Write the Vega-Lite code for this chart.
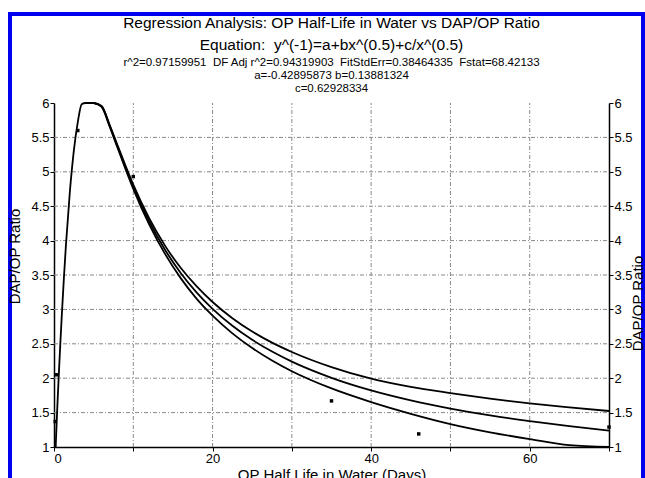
{
  "$schema": "https://vega.github.io/schema/vega-lite/v6.json",
  "width": 633,
  "height": 468,
  "autosize": {"type": "none"},
  "padding": {"left": 10, "top": 14, "right": 2, "bottom": -4},
  "background": "white",
  "config": {
    "font": "Liberation Sans",
    "view": {"stroke": "#0000f0", "strokeWidth": 4, "fill": "white"},
    "axis": {"labelFont": "Liberation Sans", "titleFont": "Liberation Sans", "labelColor": "black", "titleColor": "black", "titleFontWeight": "normal", "domainColor": "black", "domainWidth": 1.5, "tickColor": "black", "tickSize": 4, "grid": false}
  },
  "title": {
    "text": ["Regression Analysis: OP Half-Life in Water vs DAP/OP Ratio", "Equation:\u00a0\u00a0y^(-1)=a+bx^(0.5)+c/x^(0.5)"],
    "subtitle": ["r^2=0.97159951\u00a0\u00a0DF Adj r^2=0.94319903\u00a0\u00a0FitStdErr=0.38464335\u00a0\u00a0Fstat=68.42133", "a=-0.42895873 b=0.13881324", "c=0.62928334"],
    "anchor": "middle",
    "frame": "group",
    "font": "Liberation Sans",
    "fontSize": 15.5,
    "fontWeight": "normal",
    "lineHeight": 22,
    "color": "black",
    "subtitleFont": "Liberation Sans",
    "subtitleFontSize": 11.5,
    "subtitleLineHeight": 13,
    "subtitleColor": "black",
    "subtitlePadding": 3,
    "offset": -80,
    "dx": 5
  },
  "datasets": {
    "curves": [
      {"x": 0.2125, "y": 1.0, "s": "fit"},
      {"x": 0.25, "y": 1.112, "s": "fit"},
      {"x": 0.3, "y": 1.2565, "s": "fit"},
      {"x": 0.4, "y": 1.5295, "s": "fit"},
      {"x": 0.5, "y": 1.788, "s": "fit"},
      {"x": 0.6, "y": 2.037, "s": "fit"},
      {"x": 0.8, "y": 2.508, "s": "fit"},
      {"x": 1, "y": 2.949, "s": "fit"},
      {"x": 1.25, "y": 3.459, "s": "fit"},
      {"x": 1.5, "y": 3.925, "s": "fit"},
      {"x": 2, "y": 4.71, "s": "fit"},
      {"x": 2.5, "y": 5.305, "s": "fit"},
      {"x": 3, "y": 5.721, "s": "fit"},
      {"x": 3.5, "y": 5.984, "s": "fit"},
      {"x": 4, "y": 6.124, "s": "fit"},
      {"x": 5, "y": 6.14, "s": "fit"},
      {"x": 6, "y": 5.95, "s": "fit"},
      {"x": 7, "y": 5.676, "s": "fit"},
      {"x": 8, "y": 5.371, "s": "fit"},
      {"x": 9, "y": 5.071, "s": "fit"},
      {"x": 10, "y": 4.783, "s": "fit"},
      {"x": 12, "y": 4.281, "s": "fit"},
      {"x": 14, "y": 3.867, "s": "fit"},
      {"x": 16, "y": 3.526, "s": "fit"},
      {"x": 18, "y": 3.244, "s": "fit"},
      {"x": 20, "y": 3.008, "s": "fit"},
      {"x": 22.5, "y": 2.762, "s": "fit"},
      {"x": 25, "y": 2.558, "s": "fit"},
      {"x": 27.5, "y": 2.387, "s": "fit"},
      {"x": 30, "y": 2.241, "s": "fit"},
      {"x": 35, "y": 2.006, "s": "fit"},
      {"x": 40, "y": 1.823, "s": "fit"},
      {"x": 45, "y": 1.678, "s": "fit"},
      {"x": 50, "y": 1.559, "s": "fit"},
      {"x": 55, "y": 1.459, "s": "fit"},
      {"x": 60, "y": 1.375, "s": "fit"},
      {"x": 65, "y": 1.302, "s": "fit"},
      {"x": 70, "y": 1.238, "s": "fit"},
      {"x": 5, "y": 6.145, "s": "upper"},
      {"x": 6, "y": 5.958, "s": "upper"},
      {"x": 7, "y": 5.688, "s": "upper"},
      {"x": 8, "y": 5.389, "s": "upper"},
      {"x": 9, "y": 5.095, "s": "upper"},
      {"x": 10, "y": 4.813, "s": "upper"},
      {"x": 12, "y": 4.326, "s": "upper"},
      {"x": 14, "y": 3.927, "s": "upper"},
      {"x": 16, "y": 3.601, "s": "upper"},
      {"x": 18, "y": 3.334, "s": "upper"},
      {"x": 20, "y": 3.108, "s": "upper"},
      {"x": 22.5, "y": 2.872, "s": "upper"},
      {"x": 25, "y": 2.678, "s": "upper"},
      {"x": 27.5, "y": 2.517, "s": "upper"},
      {"x": 30, "y": 2.381, "s": "upper"},
      {"x": 35, "y": 2.161, "s": "upper"},
      {"x": 40, "y": 1.993, "s": "upper"},
      {"x": 45, "y": 1.873, "s": "upper"},
      {"x": 50, "y": 1.784, "s": "upper"},
      {"x": 55, "y": 1.704, "s": "upper"},
      {"x": 60, "y": 1.635, "s": "upper"},
      {"x": 65, "y": 1.577, "s": "upper"},
      {"x": 70, "y": 1.523, "s": "upper"},
      {"x": 5, "y": 6.135, "s": "lower"},
      {"x": 6, "y": 5.942, "s": "lower"},
      {"x": 7, "y": 5.664, "s": "lower"},
      {"x": 8, "y": 5.353, "s": "lower"},
      {"x": 9, "y": 5.047, "s": "lower"},
      {"x": 10, "y": 4.753, "s": "lower"},
      {"x": 12, "y": 4.236, "s": "lower"},
      {"x": 14, "y": 3.807, "s": "lower"},
      {"x": 16, "y": 3.451, "s": "lower"},
      {"x": 18, "y": 3.154, "s": "lower"},
      {"x": 20, "y": 2.908, "s": "lower"},
      {"x": 22.5, "y": 2.652, "s": "lower"},
      {"x": 25, "y": 2.438, "s": "lower"},
      {"x": 27.5, "y": 2.257, "s": "lower"},
      {"x": 30, "y": 2.101, "s": "lower"},
      {"x": 35, "y": 1.851, "s": "lower"},
      {"x": 40, "y": 1.653, "s": "lower"},
      {"x": 45, "y": 1.483, "s": "lower"},
      {"x": 50, "y": 1.334, "s": "lower"},
      {"x": 55, "y": 1.214, "s": "lower"},
      {"x": 60, "y": 1.115, "s": "lower"},
      {"x": 65, "y": 1.027, "s": "lower"},
      {"x": 70, "y": 0.953, "s": "lower"}
    ],
    "points": [
      {"x": 0.15, "y": 1.37},
      {"x": 0.35, "y": 2.05},
      {"x": 3.0, "y": 5.6},
      {"x": 10, "y": 4.93},
      {"x": 35, "y": 1.67},
      {"x": 46, "y": 1.19},
      {"x": 70, "y": 1.29}
    ],
    "gridx": [{"v": 10}, {"v": 20}, {"v": 30}, {"v": 40}, {"v": 50}, {"v": 60}],
    "gridy": [{"v": 1.5}, {"v": 2}, {"v": 2.5}, {"v": 3}, {"v": 3.5}, {"v": 4}, {"v": 4.5}, {"v": 5}, {"v": 5.5}]
  },
  "layer": [
    {
      "data": {"name": "gridx"},
      "mark": {"type": "rule", "color": "#888888", "strokeWidth": 1, "strokeDash": [4, 2, 1, 2]},
      "encoding": {
        "x": {"field": "v", "type": "quantitative", "axis": null},
        "y": {"datum": 1, "type": "quantitative", "axis": null},
        "y2": {"datum": 6}
      }
    },
    {
      "data": {"name": "gridy"},
      "mark": {"type": "rule", "color": "#888888", "strokeWidth": 1, "strokeDash": [4, 2, 1, 2]},
      "encoding": {
        "y": {"field": "v", "type": "quantitative", "axis": null},
        "x": {"datum": 0, "type": "quantitative", "axis": null},
        "x2": {"datum": 70}
      }
    },
    {
      "data": {"name": "curves"},
      "mark": {"type": "line", "color": "black", "strokeWidth": 1.8, "interpolate": "monotone"},
      "encoding": {
        "x": {
          "field": "x", "type": "quantitative",
          "scale": {"domain": [0, 70], "nice": false, "zero": false, "range": [44, 599], "clamp": true},
          "axis": {
            "values": [0, 10, 20, 30, 40, 50, 60, 70],
            "labelExpr": "datum.value % 20 == 0 ? datum.label : ''",
            "offset": -35,
            "labelFontSize": 13,
            "labelPadding": 1,
            "title": "OP Half Life in Water (Days)",
            "titleFontSize": 15,
            "titlePadding": 2
          }
        },
        "y": {
          "field": "y", "type": "quantitative",
          "scale": {"domain": [1, 6], "nice": false, "zero": false, "range": [433, 89], "clamp": true},
          "axis": {
            "orient": "left",
            "values": [1, 1.5, 2, 2.5, 3, 3.5, 4, 4.5, 5, 5.5, 6],
            "format": "~g",
            "offset": -44,
            "labelFontSize": 13,
            "labelPadding": 1,
            "title": "DAP/OP Ratio",
            "titleFontSize": 15,
            "titleAngle": -90,
            "titleX": -40,
            "titleY": 242,
            "titleAlign": "center",
            "titleBaseline": "middle"
          }
        },
        "detail": {"field": "s"},
        "order": {"field": "x", "type": "quantitative"}
      }
    },
    {
      "mark": {"type": "rule", "color": "#555555", "strokeWidth": 2},
      "encoding": {
        "x": {"datum": 0, "type": "quantitative", "axis": null},
        "x2": {"datum": 70},
        "y": {"datum": 6, "type": "quantitative", "axis": null}
      }
    },
    {
      "data": {"name": "points"},
      "mark": {"type": "square", "size": 12, "color": "black", "filled": true, "opacity": 1},
      "encoding": {
        "x": {"field": "x", "type": "quantitative", "axis": null},
        "y": {
          "field": "y", "type": "quantitative",
          "axis": {
            "orient": "right",
            "values": [1, 1.5, 2, 2.5, 3, 3.5, 4, 4.5, 5, 5.5, 6],
            "format": "~g",
            "offset": -34,
            "labelFontSize": 13,
            "labelPadding": 1,
            "title": "DAP/OP Ratio",
            "titleFontSize": 15,
            "titleAngle": -90,
            "titleX": 28,
            "titleY": 289,
            "titleAlign": "center",
            "titleBaseline": "middle"
          }
        }
      }
    }
  ],
  "resolve": {"axis": {"x": "independent", "y": "independent"}}
}
